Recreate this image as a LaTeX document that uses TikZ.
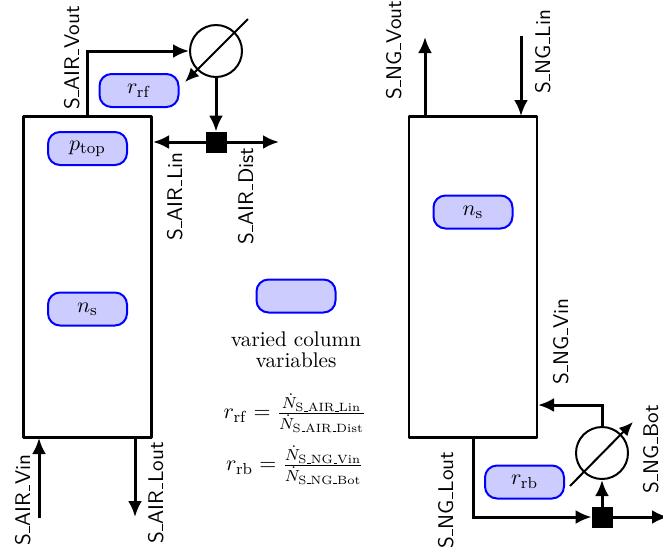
\documentclass[tikz,border=0pt]{standalone}
\usepackage{amsmath}
\usetikzlibrary{arrows.meta}
\newcommand\us{\leavevmode\kern.06em\vbox{\hrule width.3em}}
\tikzset{
 x=0.5pt,y=-0.5pt,
 column/.style={draw,line width=1.1pt,minimum width=64pt,minimum height=160.5pt,inner sep=0pt,line join=round},
 var/.style={draw=blue,fill=blue!20,line width=1pt,rounded corners=6pt,minimum width=39.5pt,minimum height=16.5pt,inner sep=0pt,font=\fontsize{10.95}{13}\selectfont},
 hx/.style={draw,circle,line width=1pt,minimum size=26pt,inner sep=0pt},
 mix/.style={draw,fill=black,minimum size=10pt,inner sep=0pt},
 flow/.style={line width=1.5pt,-{Latex[length=8pt,width=7pt]}},
 thin arrow/.style={line width=1pt,-{Latex[length=7pt,width=6pt]}},
 lab/.style={rotate=90,font=\sffamily\fontsize{10.6}{12}\selectfont,inner sep=0pt},
 txt/.style={align=center,font=\fontsize{10.6}{12}\selectfont,inner sep=0pt},
 eqn/.style={font=\fontsize{10.95}{12}\selectfont,inner sep=0pt},
}
\begin{document}
\begin{tikzpicture}
\useasboundingbox (0,0) rectangle (663,553);
\clip (0,0) rectangle (663,553);
% columns
\node[column] (airc) at (87.5,277) {};
\node[column] (ngc) at (473,277) {};
% heat exchangers and mixers
\node[hx] (cond) at (216,51) {};
\node[mix] (airm) at (216,142) {};
\node[hx] (reb) at (602,453) {};
\node[mix] (ngm) at (602,517) {};
% free ends
\coordinate (cA) at (248,19);
\coordinate (cB) at (185,82);
\coordinate (rA) at (570,486);
\coordinate (rB) at (633,422);
\coordinate (airlinend) at (153,142);
\coordinate (airdist) at (279,142);
\coordinate (airvout) at (87,116);
\coordinate (airvin0) at (39,518);
\coordinate (airvin1) at (39,438);
\coordinate (airlo0) at (135,437);
\coordinate (airlo1) at (135,517);
\coordinate (ngvo0) at (425,116);
\coordinate (ngvo1) at (425,37);
\coordinate (ngli0) at (521,36);
\coordinate (ngli1) at (521,116);
\coordinate (ngvin) at (538,405);
\coordinate (nglo) at (473,437);
\coordinate (ngbot) at (668,517);
% connectors
\draw[flow] (airvout) |- (cond.west);
\draw[flow] (cond.south) -- (airm.north);
\draw[flow] (airm.west) -- (airlinend);
\draw[flow] (airm.east) -- (airdist);
\draw[thin arrow] (cA) -- (cB);
\draw[flow] (airvin0) -- (airvin1);
\draw[flow] (airlo0) -- (airlo1);
\draw[flow] (ngvo0) -- (ngvo1);
\draw[flow] (ngli0) -- (ngli1);
\draw[flow] (reb.north) |- (ngvin);
\draw[flow] (ngm.north) -- (reb.south);
\draw[flow] (nglo) |- (ngm.west);
\draw[flow] (ngm.east) -- (ngbot);
\draw[thin arrow] (rA) -- (rB);
% variables
\node[var] (rrf) at (139,90.5) {$r_{\mathrm{rf}}$};
\node[var] (ptop) at (87.5,148.5) {$p_{\mathrm{top}}$};
\node[var] (nsl) at (87.5,309) {$n_{\mathrm{s}}$};
\node[var] (nsr) at (473,212) {$n_{\mathrm{s}}$};
\node[var] (rrb) at (524.5,482) {$r_{\mathrm{rb}}$};
\node[var] (leg) at (296,296) {};
% stream labels
\node[lab,anchor=south west] (l1) at (80,110) {S\us AIR\us Vout};
\node[lab,anchor=south west] (l2) at (183,241) {S\us AIR\us Lin};
\node[lab,anchor=south west] (l3) at (254,245) {S\us AIR\us Dist};
\node[lab,anchor=south west] (l4) at (31,546) {S\us AIR\us Vin};
\node[lab,anchor=south west] (l5) at (164,544) {S\us AIR\us Lout};
\node[lab,anchor=south west] (l6) at (402,100) {S\us NG\us Vout};
\node[lab,anchor=south west] (l7) at (551,94) {S\us NG\us Lin};
\node[lab,anchor=south west] (l8) at (569,385) {S\us NG\us Vin};
\node[lab,anchor=south west] (l9) at (454,549) {S\us NG\us Lout};
\node[lab,anchor=south west] (l10) at (659,494) {S\us NG\us Bot};
% legend text
\node[txt] (legt) at (296,350) {varied column\\[-1.5pt]variables};
\node[eqn] (eq1) at (295,413) {$r_{\mathrm{rf}}=\frac{\dot N_{\text{\rmfamily S\us AIR\us Lin}}}{\dot N_{\text{\rmfamily S\us AIR\us Dist}}}$};
\node[eqn] (eq2) at (295,465) {$r_{\mathrm{rb}}=\frac{\dot N_{\text{\rmfamily S\us NG\us Vin}}}{\dot N_{\text{\rmfamily S\us NG\us Bot}}}$};
\end{tikzpicture}
\end{document}
